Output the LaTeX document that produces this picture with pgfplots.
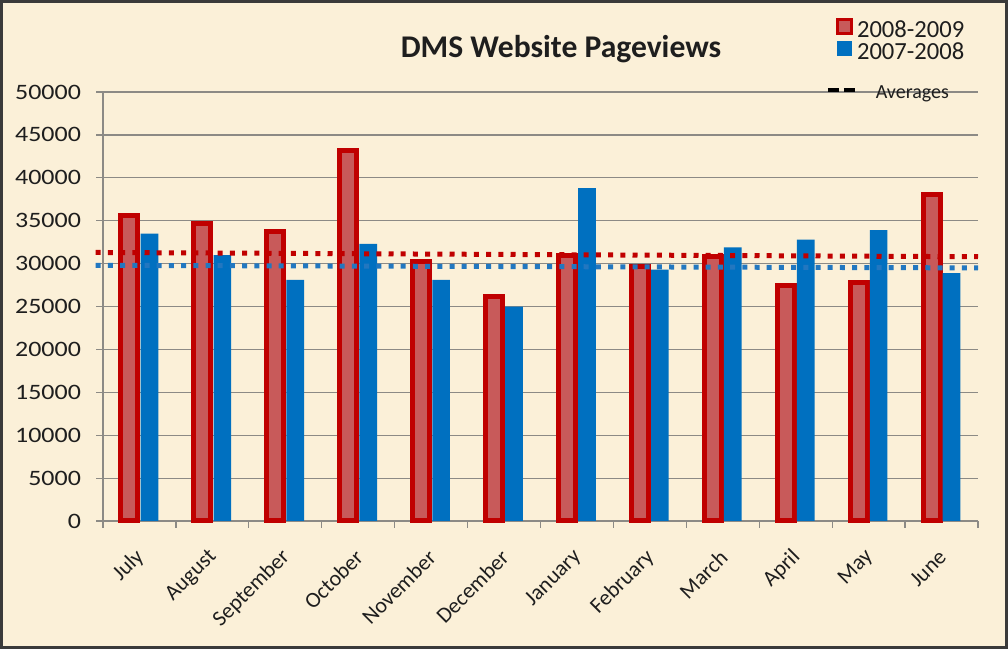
\documentclass[border=0pt]{standalone}
\usepackage{fontspec}
\setmainfont{Carlito}
\newfontfamily\ytickfont[FakeStretch=1.18]{Carlito}
\usepackage{pgfplots}
\pgfplotsset{compat=1.18}
\definecolor{bg}{HTML}{FBF0D8}
\definecolor{framec}{HTML}{3A3A3A}
\definecolor{redline}{HTML}{C00000}
\definecolor{redfill}{HTML}{C85A5A}
\definecolor{blubar}{HTML}{0070C0}
\definecolor{bluavg}{HTML}{2277C0}
\definecolor{gridc}{HTML}{8C8A85}
\definecolor{txt}{HTML}{1E1E1E}

\pgfplotsset{dmsframe/.style={
  at={(51.5pt,64pt)}, anchor=south west,
  scale only axis, width=437.5pt, height=214.5pt,
  xmin=-0.5, xmax=11.5, ymin=0, ymax=50000}}

\begin{document}
\begin{tikzpicture}
\fill[bg] (0,0) rectangle (504pt,324.5pt);
\draw[framec, line width=1.6pt] (0.8pt,0.8pt) rectangle (503.2pt,323.7pt);
\useasboundingbox (0,0) rectangle (504pt,324.5pt);
\begin{axis}[
  dmsframe,
  clip=false,
  axis lines=left, axis line style={-, gridc, line width=0.6pt},
  ymajorgrids, grid style={gridc, line width=0.6pt},
  tick align=outside, major tick length=3.5pt, minor tick length=3.5pt,
  ytick={0,5000,...,50000}, scaled y ticks=false,
  y tick style={gridc, line width=0.6pt},
  xtick={0,...,11},
  xticklabels={July,August,September,October,November,December,January,February,March,April,May,June},
  minor xtick={-0.5,0.5,...,11.5},
  major x tick style={draw=none},
  minor x tick style={gridc, line width=0.6pt},
  yticklabel={\ytickfont\fontsize{11}{13}\selectfont\pgfmathprintnumber{\tick}},
  yticklabel style={/pgf/number format/1000 sep={}, /pgf/number format/assume math mode=true,
    text=txt, xshift=-4pt},
  xticklabel style={font=\fontsize{11}{13}\selectfont, text=txt,
    xshift=3pt, yshift=-10.5pt, rotate=45, anchor=east},
  title={DMS Website Pageviews},
  every axis title shift=0pt,
  title style={at={(0.5234,1.0816)}, anchor=base, yshift=0pt,
    font=\fontsize{15.8}{18}\selectfont\bfseries, text=txt},
  legend style={at={(axis description cs:0.838,1.172)}, anchor=north west,
    draw=none, fill=none, inner sep=0pt, outer sep=0pt,
    column sep=0pt, row sep=0pt, nodes={inner sep=0pt, text=txt},
    font=\fontsize{12.3}{14}\selectfont},
  legend cell align=left,
]
\addplot[ybar, bar width=8.5pt, bar shift=-5pt, fill=redfill, draw=redline, line width=2.5pt,
  legend image code/.code={\path (0pt,0) (8.5pt,0);
    \draw[redline, fill=redfill, line width=1.4pt] (0.7pt,-1.2pt) rectangle (7.5pt,5.6pt);}]
  coordinates {(0,35600) (1,34700) (2,33800) (3,43200) (4,30300) (5,26200)
               (6,31000) (7,29700) (8,30800) (9,27500) (10,27800) (11,38100)};
\addlegendentry{\hspace*{-3pt}\rule[-2.6pt]{0pt}{10.65pt}2008-2009}
\addplot[ybar, bar width=8.8pt, bar shift=5pt, fill=blubar, draw=none,
  legend image code/.code={\path (0pt,0) (8.5pt,0);
    \fill[blubar] (0.35pt,-1.4pt) rectangle (7.85pt,6.1pt);}]
  coordinates {(0,33500) (1,31000) (2,28100) (3,32300) (4,28100) (5,25000)
               (6,38800) (7,29300) (8,31900) (9,32800) (10,33900) (11,28900)};
\addlegendentry{\hspace*{-3pt}\rule[-2.6pt]{0pt}{10.65pt}2007-2008}
\addplot[redline, line width=2.5pt, dash pattern=on 2.5pt off 3.6pt, forget plot]
  coordinates {(-0.6,31300) (11.5,30800)};
\addplot[bluavg, line width=2.5pt, dash pattern=on 2.5pt off 3.6pt, forget plot]
  coordinates {(-0.6,29800) (11.5,29500)};
\end{axis}
% second, empty axis that only carries the "Averages" legend entry
\begin{axis}[
  dmsframe, hide axis,
  legend style={at={(axis description cs:0.826,0.9837)}, anchor=base west,
    draw=none, fill=none, inner sep=0pt, outer sep=0pt,
    column sep=0pt, nodes={inner sep=0pt, text=txt, anchor=base west},
    font=\fontsize{10}{12}\selectfont},
]
\addlegendimage{legend image code/.code={\draw[black, line width=2pt, dash pattern=on 5.5pt off 2.5pt] (0pt,4.3pt) -- (14.5pt,4.3pt);}}
\addlegendentry{\hspace*{8.5pt}Averages}
\end{axis}
\end{tikzpicture}
\end{document}
